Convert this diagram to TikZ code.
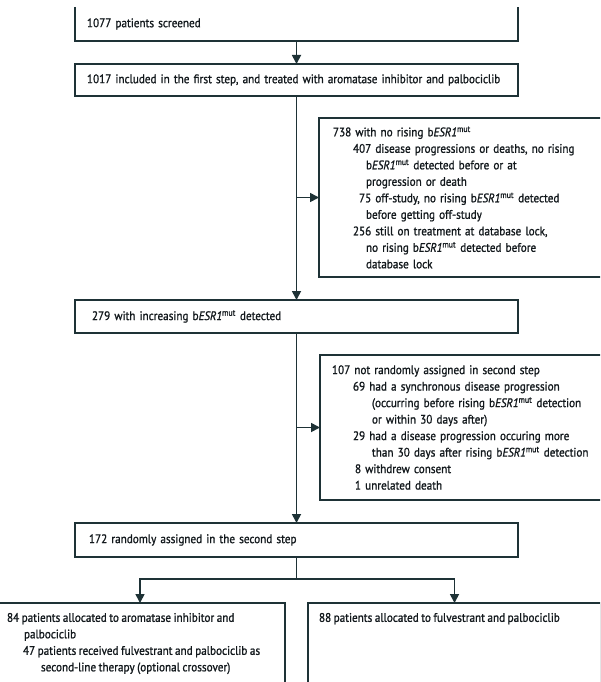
\documentclass[tikz,border=0pt]{standalone}
\usepackage{fontspec}
\setmainfont{PT Sans}[FakeStretch=0.9, FakeBold=1.2, WordSpace=0.85]
\usetikzlibrary{arrows.meta}
\definecolor{lineclr}{RGB}{30,50,54}
\definecolor{textclr}{RGB}{18,24,28}
\newcommand\besr{b\textit{ESR1}\textsuperscript{mut}}
\newcommand\flowfont{\fontsize{12.4}{16.5}\selectfont}
\begin{document}
\begin{tikzpicture}[x=1pt,y=-1pt,
  flowbox/.style={draw=lineclr, line width=1.7pt, anchor=north west, outer sep=0pt,
    inner ysep=0pt, align=left, text=textclr, font=\flowfont},
  flowtext/.style={anchor=north west, inner sep=0pt, outer sep=0pt, align=left,
    text=textclr, font=\flowfont},
  boxline/.style={draw=lineclr, line width=1.7pt},
  conn/.style={draw=lineclr, line width=1.7pt},
  arr/.style={draw=lineclr, line width=1.7pt, -{Triangle[length=9pt,width=9pt]}}]
\useasboundingbox (0,0) rectangle (600,682);
\clip (0,0) rectangle (600,682);

% main column
\node[flowbox, draw=none, minimum width=443pt, minimum height=34pt, inner xsep=12pt, text width=419pt] (b1) at (75,7) {1077 patients screened};
\draw[boxline] (b1.north west) -- (b1.south west) -- (b1.south east) -- (b1.north east);

\node[flowbox, minimum width=443pt, minimum height=32pt, inner xsep=12pt, text width=419pt] (b2) at (75,64)
  {1017 included in the first step, and treated with aromatase inhibitor and palbociclib};

\node[flowbox, minimum width=443pt, minimum height=33pt, inner xsep=17pt, text width=409pt] (b3) at (75,300)
  {279 with increasing \besr{} detected};

\node[flowbox, minimum width=443pt, minimum height=34pt, inner xsep=14pt, text width=415pt] (b4) at (75,523)
  {172 randomly assigned in the second step};

% exclusion boxes
\node[flowbox, minimum width=300pt, minimum height=159pt, inner xsep=14pt, text width=272pt] (r1) at (319,118)
  {738 with no rising \besr\\
   \hspace*{20pt}407 disease progressions or deaths, no rising\\
   \hspace*{33pt}\besr{} detected before or at\\
   \hspace*{33pt}progression or death\\
   \hspace*{20pt}\phantom{0}75 off-study, no rising \besr{} detected\\
   \hspace*{33pt}before getting off-study\\
   \hspace*{20pt}256 still on treatment at database lock,\\
   \hspace*{33pt}no rising \besr{} detected before\\
   \hspace*{33pt}database lock};

\node[flowbox, minimum width=300pt, minimum height=145pt, inner xsep=12pt, text width=276pt] (r2) at (320,355)
  {107 not randomly assigned in second step\\
   \hspace*{21pt}69 had a synchronous disease progression\\
   \hspace*{40pt}(occurring before rising \besr{} detection\\
   \hspace*{40pt}or within 30 days after)\\
   \hspace*{21pt}29 had a disease progression occuring more\\
   \hspace*{40pt}than 30 days after rising \besr{} detection\\
   \hspace*{23pt}8 withdrew consent\\
   \hspace*{23pt}1 unrelated death};

% allocation boxes
\node[flowbox, minimum width=290pt, minimum height=120pt] (b6) at (-5,603) {};
\node[flowtext] (t6) at (7,613)
  {84 patients allocated to aromatase inhibitor and\\
   \hspace*{17pt}palbociclib\\
   \hspace*{16pt}47 patients received fulvestrant and palbociclib as\\
   \hspace*{34pt}second-line therapy (optional crossover)};
\node[flowbox, minimum width=293pt, minimum height=120pt] (b7) at (308,603) {};
\node[flowtext] (t7) at (319,613) {88 patients allocated to fulvestrant and palbociclib};

% connectors
\draw[arr] (b1.south) -- (b2.north);
\draw[arr] (b2.south) -- (b3.north);
\draw[arr] (b2.south |- r1.west) -- (r1.west);
\draw[arr] (b3.south) -- (b4.north);
\draw[arr] (b3.south |- r2.west) -- (r2.west);
\coordinate (split) at (b4.south |- 0,579);
\draw[conn] (b4.south) -- (split);
\draw[arr] (split) -| (b6.north);
\draw[arr] (split) -| (b7.north);
\end{tikzpicture}
\end{document}
